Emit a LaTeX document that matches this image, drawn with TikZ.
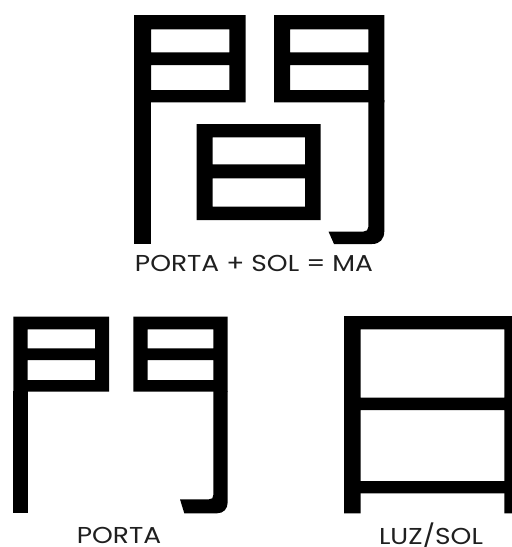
\documentclass[tikz,border=0pt]{standalone}
\usepackage{fontspec}
\setmainfont{Poppins}[FakeStretch=1.15]
\begin{document}
\begin{tikzpicture}[x=1pt,y=-1pt,
  glyph/.style={fill=black, even odd rule},
  lbl/.style={font=\fontsize{23}{26}\selectfont, text=black!88, inner sep=0pt, anchor=base, text depth=0pt}]
\useasboundingbox (0,0) rectangle (512,547);
\clip (0,0) rectangle (512,547);
% top character
\fill[glyph] (134,15) rectangle (245.7,102.3) (151,29.3) rectangle (229.3,52.3) (151,65) rectangle (229.3,90);
\fill (134,102) rectangle (151,244);
\fill[glyph] (274,15) rectangle (384.3,102.3) (290,29.3) rectangle (368.3,52.3) (290,65) rectangle (368.3,90);
\fill (368.3,100) -- (384.3,100) -- (384.3,231) .. controls (384.3,239) and (380,244) .. (372,244) -- (334,244) -- (328.5,231.5) -- (363.5,231.5) .. controls (366.5,231.5) and (368.3,230) .. (368.3,227) -- cycle;
\fill[glyph] (196.7,124) rectangle (320.7,220) (212.7,137.3) rectangle (305,164.3) (212.7,178.3) rectangle (305,206.7);
\node[lbl] (eq) at (254,271) {PORTA + SOL = MA};
% bottom left character
\fill[glyph] (13.3,316.7) rectangle (109,391.7) (27.7,329.3) rectangle (95,348.3) (27.7,360) rectangle (95,380);
\fill (13.3,391) rectangle (27.7,513.3);
\fill[glyph] (133.3,316.7) rectangle (227.7,391.7) (147.7,329.3) rectangle (213.3,348.3) (147.7,360) rectangle (213.3,380);
\fill (213.3,391) -- (227.7,391) -- (227.7,502) .. controls (227.7,509) and (223.5,513.3) .. (217,513.3) -- (184.3,513.3) -- (180,499.3) -- (209,499.3) .. controls (212,499.3) and (213.3,498) .. (213.3,495) -- cycle;
\node[lbl] (porta) at (119,543.3) {PORTA};
% bottom right character
\fill[glyph] (344,316) rectangle (520,493.3) (360.7,329.3) rectangle (504.3,397.7) (360.7,410) rectangle (504.3,481);
\fill (344,493) rectangle (360.7,513.3) (504.3,493) rectangle (520,513.3);
\node[lbl] (sol) at (431,544) {LUZ/SOL};
\end{tikzpicture}
\end{document}
